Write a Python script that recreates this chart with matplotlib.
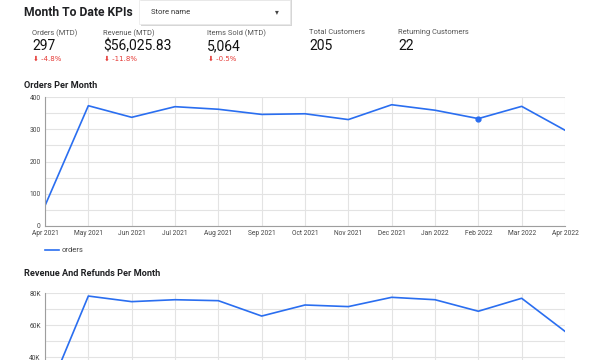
import matplotlib.pyplot as plt
from matplotlib.patches import Rectangle
from matplotlib.ticker import MultipleLocator, FixedLocator, FuncFormatter

plt.rcParams['font.family'] = ['Roboto', 'DejaVu Sans']

months = ['Apr 2021', 'May 2021', 'Jun 2021', 'Jul 2021', 'Aug 2021', 'Sep 2021', 'Oct 2021',
          'Nov 2021', 'Dec 2021', 'Jan 2022', 'Feb 2022', 'Mar 2022', 'Apr 2022']
orders = [63, 373, 337, 370, 362, 346, 348, 330, 376, 359, 333, 371, 297]
revenue = [13000, 78100, 74600, 75800, 75200, 65600, 72500, 71500, 77300, 75800, 68600, 76700, 56026]

kpi_labels = ['Orders (MTD)', 'Revenue (MTD)', 'Items Sold (MTD)', 'Total Customers', 'Returning Customers']
kpi_values = ['297', '$56,025.83', '5,064', '205', '22']
kpi_changes = ['-4.8%', '-11.8%', '-0.5%', None, None]

W, H = 606, 360
BLUE = '#2a6ef0'
GRID = '#e3e3e3'
AXIS = '#9e9e9e'

fig = plt.figure(figsize=(W / 100, H / 100), dpi=100)

def fx(px):
    return px / W

def fy(py):
    return 1 - py / H

# header
fig.text(fx(24), fy(12), 'Month To Date KPIs', fontsize=8.7, fontweight='bold', va='center', color='#202124')

# dropdown box with shadow
fig.patches.append(Rectangle((fx(141), fy(26)), fx(151), 26 / H, transform=fig.transFigure,
                             facecolor='#d6d6d6', edgecolor='none', zorder=1))
fig.patches.append(Rectangle((fx(139), fy(24)), fx(151), 24 / H, transform=fig.transFigure,
                             facecolor='white', edgecolor='#e8e8e8', lw=0.5, zorder=2))
fig.text(fx(151), fy(12), 'Store name', fontsize=5.5, va='center', color='#333333')
fig.text(fx(277), fy(12), '▾', fontsize=5.5, va='center', ha='center', color='#444444',
         family=['DejaVu Sans'])

# KPI cards
kpi_x = [32, 103, 207, 309, 398]
for x, lab, val, ch in zip(kpi_x, kpi_labels, kpi_values, kpi_changes):
    fig.text(fx(x), fy(33), lab, fontsize=5.4, va='center', color='#555555')
    fig.text(fx(x), fy(46), val, fontsize=10, va='center', color='#111111')
    if ch:
        fig.text(fx(x + 1), fy(59), '\u2b07 ' + ch, fontsize=5, va='center', color='#e53935',
                 family=['DejaVu Sans'])

# orders chart
fig.text(fx(24), fy(86), 'Orders Per Month', fontsize=6.6, fontweight='bold', va='center', color='#202124')

def style(ax):
    ax.set_xlim(0, len(months) - 1)
    ax.set_xticks(range(len(months)))
    ax.set_xticklabels(months)
    ax.tick_params(axis='both', length=0, labelsize=4.8, colors='#444444', pad=3)
    ax.grid(True, which='both', color=GRID, lw=0.8)
    ax.set_axisbelow(True)
    for s in ['top', 'right']:
        ax.spines[s].set_visible(False)
    for s in ['left', 'bottom']:
        ax.spines[s].set_color(AXIS)
        ax.spines[s].set_linewidth(0.8)

ax1 = fig.add_axes([fx(45), fy(226), fx(565) - fx(45), (226 - 97) / H])
ax1.plot(range(len(months)), orders, color=BLUE, lw=1.2, marker='o', markersize=3.5,
         markevery=[months.index('Feb 2022')])
ax1.set_ylim(0, 400)
ax1.yaxis.set_major_locator(MultipleLocator(100))
ax1.yaxis.set_minor_locator(MultipleLocator(50))
ax1.tick_params(axis='y', which='minor', length=0)
style(ax1)

# legend
fig.lines.append(plt.Line2D([fx(45), fx(59)], [fy(250), fy(250)], transform=fig.transFigure, color=BLUE, lw=1.2))
fig.text(fx(62), fy(250), 'orders', fontsize=5.5, va='center', color='#444444')

# revenue chart (runs past the bottom edge, as in the screenshot)
fig.text(fx(24), fy(273), 'Revenue And Refunds Per Month', fontsize=6.6, fontweight='bold', va='center',
         color='#202124')
ax2 = fig.add_axes([fx(45), fy(421), fx(565) - fx(45), (421 - 293) / H])
ax2.plot(range(len(months)), revenue, color=BLUE, lw=1.2)
ax2.set_ylim(0, 80000)
ax2.yaxis.set_major_locator(FixedLocator([40000, 60000, 80000]))
ax2.yaxis.set_minor_locator(MultipleLocator(10000))
ax2.yaxis.set_major_formatter(FuncFormatter(lambda v, p: '%dK' % (v / 1000)))
ax2.tick_params(axis='y', which='minor', length=0)
style(ax2)
ax2.tick_params(axis='x', labelbottom=False)

fig.savefig('out.png', dpi=100)
